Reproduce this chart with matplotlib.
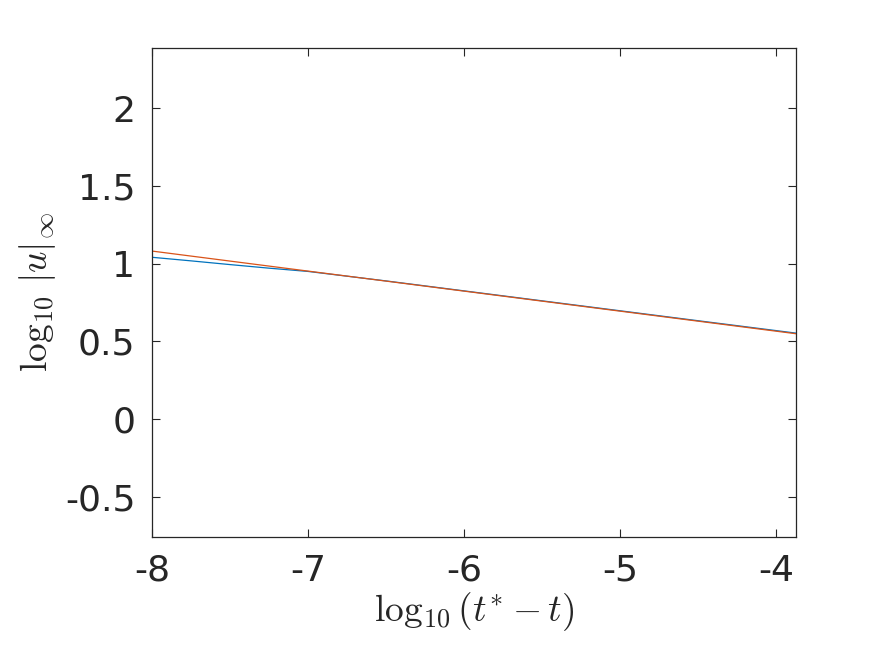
import matplotlib
matplotlib.use("Agg")
import matplotlib.pyplot as plt

plt.rcParams['mathtext.fontset'] = 'cm'
plt.rcParams['font.family'] = ['DejaVu Sans']

# data
x_data = [-8.0, -7.75, -7.5, -7.25, -7.0, -6.5, -6.0, -5.5, -5.0, -4.5, -3.87]
y_data = [1.040, 1.017, 0.993, 0.970, 0.949, 0.888, 0.824, 0.760, 0.696, 0.632, 0.552]
x_fit = [-8.0, -3.87]
y_fit = [1.080, 0.548]

xticks = [-8, -7, -6, -5, -4]
yticks = [-0.5, 0, 0.5, 1, 1.5, 2]
ytick_labels = ['-0.5', '0', '0.5', '1', '1.5', '2']
xtick_labels = ['-8', '-7', '-6', '-5', '-4']

blue = (0.0, 0.447, 0.741)
orange = (0.850, 0.325, 0.098)
axc = (0.15, 0.15, 0.15)

fig = plt.figure(figsize=(8.91, 6.45), dpi=100)
ax = fig.add_axes([152/891, 108/645, (796-152)/891, (537-48)/645])

ax.plot(x_data, y_data, color=blue, lw=0.9)
ax.plot(x_fit, y_fit, color=orange, lw=0.9)

ax.set_xlim(-8, -3.872)
ax.set_ylim(-0.759, 2.386)
ax.set_xticks(xticks)
ax.set_xticklabels(xtick_labels)
ax.set_yticks(yticks)
ax.set_yticklabels(ytick_labels)

ax.tick_params(direction='in', length=6, width=0.8, colors=axc,
               labelsize=26, top=True, right=True, pad=12)
for s in ax.spines.values():
    s.set_color(axc)
    s.set_linewidth(0.9)

ax.set_xlabel(r'$\log_{10}(t^{*} - t)$', fontsize=27, color=axc, labelpad=2)
ax.set_ylabel(r'$\log_{10}\,|u|_\infty$', fontsize=27, color=axc, labelpad=5)

fig.savefig('out.png', dpi=100)
